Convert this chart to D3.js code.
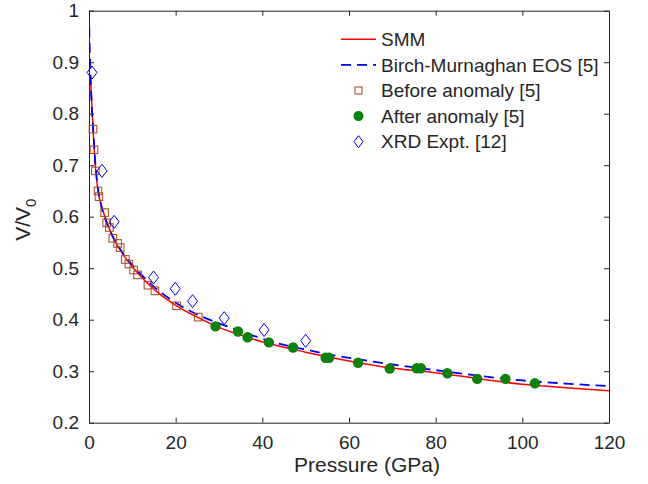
<!DOCTYPE html>
<html>
<head>
<meta charset="utf-8">
<script src="https://cdn.jsdelivr.net/npm/d3@7"></script>
<style>
  body { margin: 0; background: #fff; }
  text { font-family: "Liberation Sans", Arial, Helvetica, sans-serif; fill: #262626; }
</style>
</head>
<body>
<script>
// SMM curve
var smmP = [0.35, 0.5, 0.7, 1, 1.5, 2, 3, 4, 5, 6, 7, 8, 10, 12, 14, 16, 20, 25, 30, 35, 40, 50, 60, 70, 80, 90, 100, 110, 120];
var smmV = [0.87, 0.845, 0.81, 0.76, 0.695, 0.655, 0.618, 0.592, 0.57, 0.552, 0.538, 0.525, 0.503, 0.484, 0.467, 0.452, 0.428, 0.405, 0.385, 0.37, 0.357, 0.337, 0.32, 0.306, 0.297, 0.2855, 0.2745, 0.268, 0.262];

// Birch-Murnaghan EOS [5]
var bmP = [0, 0.1, 0.3, 0.6, 1, 1.5, 2, 3, 4, 5, 6, 8, 10, 12, 15, 20, 25, 30, 35, 40, 45, 50, 55, 60, 66, 70, 80, 90, 100, 110, 120];
var bmV = [1, 0.95, 0.89, 0.82, 0.765, 0.70, 0.66, 0.615, 0.59, 0.57, 0.553, 0.527, 0.506, 0.488, 0.464, 0.433, 0.410, 0.393, 0.378, 0.363, 0.351, 0.342, 0.333, 0.326, 0.318, 0.313, 0.302, 0.291, 0.282, 0.276, 0.271];

// Before anomaly [5]
var beforeP = [0.92, 1.15, 1.47, 2.08, 2.3, 3.6, 4.08, 4.7, 5.5, 6.6, 7.2, 8.4, 9.2, 10.3, 11.2, 13.6, 15.2, 20.2, 25.2];
var beforeV = [0.770, 0.730, 0.689, 0.650, 0.639, 0.608, 0.588, 0.579, 0.558, 0.548, 0.540, 0.517, 0.508, 0.4965, 0.487, 0.467, 0.456, 0.427, 0.405];

// After anomaly [5]
var afterP = [29.2, 34.4, 36.6, 41.5, 47.1, 54.6, 55.4, 62.1, 69.4, 75.6, 76.6, 82.7, 89.6, 96.1, 102.9];
var afterV = [0.387, 0.377, 0.366, 0.356, 0.346, 0.326, 0.326, 0.3165, 0.305, 0.3056, 0.3056, 0.296, 0.285, 0.285, 0.2765];

// XRD Expt. [12]
var xrdP = [0.7, 3.0, 5.8, 14.9, 19.9, 23.9, 31.2, 40.4, 50.0];
var xrdV = [0.880, 0.689, 0.590, 0.482, 0.460, 0.436, 0.403, 0.380, 0.359];

var xTicks = [0, 20, 40, 60, 80, 100, 120];
var yTicks = [0.2, 0.3, 0.4, 0.5, 0.6, 0.7, 0.8, 0.9, 1];

var W = 648, H = 484;
var margin = { top: 10.7, right: 39, bottom: 61.3, left: 89 };
var width = W - margin.left - margin.right;
var height = H - margin.top - margin.bottom;

var svg = d3.select("body").append("svg")
    .attr("width", W)
    .attr("height", H);

var g = svg.append("g")
    .attr("transform", "translate(" + margin.left + "," + margin.top + ")");

var x = d3.scaleLinear().domain([0, 120]).range([0, width]);
var y = d3.scaleLinear().domain([0.2, 1]).range([height, 0]);

var axisColor = "#262626";
var tickFmt = function(d) { return d === 1 ? "1" : d3.format("")(d); };

// axes (ticks inward, box on)
var xAxis = g.append("g").attr("transform", "translate(0," + height + ")")
    .call(d3.axisBottom(x).tickValues(xTicks).tickSizeInner(-5).tickSizeOuter(0).tickPadding(13));
var xTop = g.append("g")
    .call(d3.axisTop(x).tickValues(xTicks).tickSizeInner(-5).tickSizeOuter(0).tickFormat(""));
var yAxis = g.append("g")
    .call(d3.axisLeft(y).tickValues(yTicks).tickSizeInner(-5).tickSizeOuter(0).tickPadding(10).tickFormat(tickFmt));
var yRight = g.append("g").attr("transform", "translate(" + width + ",0)")
    .call(d3.axisRight(y).tickValues(yTicks).tickSizeInner(-5).tickSizeOuter(0).tickFormat(""));

[xAxis, xTop, yAxis, yRight].forEach(function(a) {
    a.select(".domain").attr("stroke", axisColor).attr("stroke-width", 1);
    a.selectAll(".tick line").attr("stroke", axisColor);
    a.selectAll(".tick text").style("font-size", "19px").attr("fill", axisColor);
});

// clip lines to plot area
svg.append("defs").append("clipPath").attr("id", "clip")
    .append("rect").attr("width", width).attr("height", height);

var line = d3.line()
    .x(function(d) { return x(d[0]); })
    .y(function(d) { return y(d[1]); })
    .curve(d3.curveMonotoneX);

var smm = smmP.map(function(p, i) { return [p, smmV[i]]; });
var bm = bmP.map(function(p, i) { return [p, bmV[i]]; });

var lines = g.append("g").attr("clip-path", "url(#clip)");
lines.append("path").datum(smm)
    .attr("d", line).attr("fill", "none")
    .attr("stroke", "#ff0000").attr("stroke-width", 1.5);
lines.append("path").datum(bm)
    .attr("d", line).attr("fill", "none")
    .attr("stroke", "#0000ff").attr("stroke-width", 1.8)
    .attr("stroke-dasharray", "10,6");

var sqColor = "#a5451f";
var grColor = "#0b800b";

// Before anomaly squares
g.selectAll(".sq").data(beforeP).enter().append("rect")
    .attr("class", "sq")
    .attr("x", function(d) { return x(d) - 3.8; })
    .attr("y", function(d, i) { return y(beforeV[i]) - 3.8; })
    .attr("width", 7.6).attr("height", 7.6)
    .attr("fill", "none").attr("stroke", sqColor).attr("stroke-width", 1);

// After anomaly circles
g.selectAll(".ci").data(afterP).enter().append("circle")
    .attr("class", "ci")
    .attr("cx", function(d) { return x(d); })
    .attr("cy", function(d, i) { return y(afterV[i]); })
    .attr("r", 5.2)
    .attr("fill", grColor);

// XRD diamonds
var diamond = function(cx, cy) {
    return "M" + cx + "," + (cy - 6.5) + "L" + (cx + 5) + "," + cy +
        "L" + cx + "," + (cy + 6.5) + "L" + (cx - 5) + "," + cy + "Z";
};
g.selectAll(".di").data(xrdP).enter().append("path")
    .attr("class", "di")
    .attr("d", function(d, i) { return diamond(x(d), y(xrdV[i])); })
    .attr("fill", "none").attr("stroke", "#0000ff").attr("stroke-width", 1);

// axis labels
svg.append("text")
    .attr("x", margin.left + width / 2 + 18)
    .attr("y", 472)
    .attr("text-anchor", "middle")
    .style("font-size", "21px")
    .text("Pressure (GPa)");

var yl = svg.append("text")
    .attr("transform", "translate(30," + (margin.top + height / 2 + 3) + ") rotate(-90)")
    .attr("text-anchor", "middle")
    .style("font-size", "21px");
yl.append("tspan").text("V/V");
yl.append("tspan").attr("dy", 6).style("font-size", "15px").text("0");

// legend
var legend = [
    { label: "SMM", type: "line" },
    { label: "Birch-Murnaghan EOS [5]", type: "dash" },
    { label: "Before anomaly [5]", type: "square" },
    { label: "After anomaly [5]", type: "circle" },
    { label: "XRD Expt. [12]", type: "diamond" }
];
var lg = svg.append("g");
legend.forEach(function(d, i) {
    var cy = 39.3 + i * 25.6;
    if (d.type === "line") {
        lg.append("line").attr("x1", 341).attr("x2", 376).attr("y1", cy).attr("y2", cy)
            .attr("stroke", "#ff0000").attr("stroke-width", 1.5);
    } else if (d.type === "dash") {
        lg.append("line").attr("x1", 341).attr("x2", 376).attr("y1", cy).attr("y2", cy)
            .attr("stroke", "#0000ff").attr("stroke-width", 1.8).attr("stroke-dasharray", "10,6");
    } else if (d.type === "square") {
        lg.append("rect").attr("x", 358.5 - 3.5).attr("y", cy - 3.5).attr("width", 7).attr("height", 7)
            .attr("fill", "none").attr("stroke", sqColor);
    } else if (d.type === "circle") {
        lg.append("circle").attr("cx", 358.5).attr("cy", cy).attr("r", 5).attr("fill", grColor);
    } else {
        lg.append("path").attr("d", "M358.5," + (cy - 6) + "L363," + cy + "L358.5," + (cy + 6) + "L354," + cy + "Z")
            .attr("fill", "none").attr("stroke", "#0000ff");
    }
    lg.append("text").attr("x", 381).attr("y", cy).attr("dy", "0.35em")
        .style("font-size", "19px").text(d.label);
});
</script>
</body>
</html>
